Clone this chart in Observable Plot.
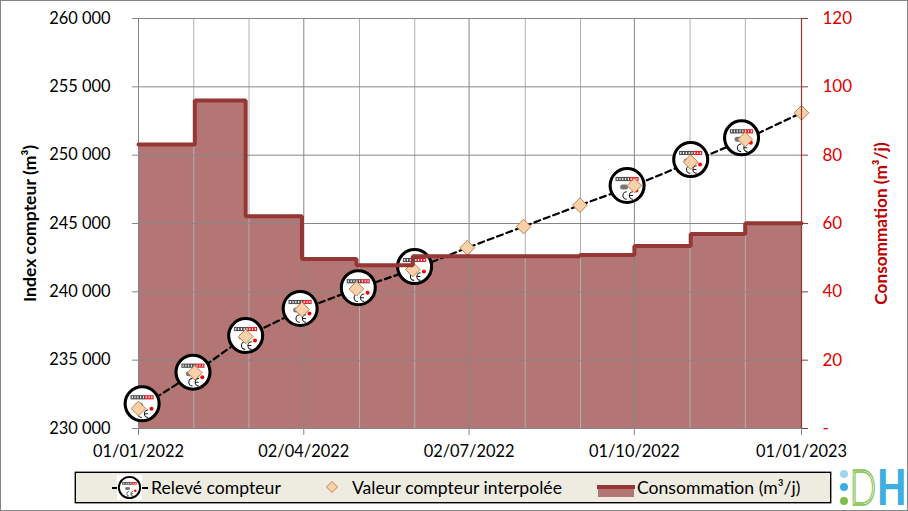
<!DOCTYPE html>
<html lang="fr">
<head>
<meta charset="utf-8">
<script src="https://cdn.jsdelivr.net/npm/d3@7"></script>
<script src="https://cdn.jsdelivr.net/npm/@observablehq/plot@0.6"></script>
<style>
html,body{margin:0;padding:0;background:#fff;width:908px;height:511px;overflow:hidden}
#page{position:relative;width:908px;height:511px;font-family:Lato,sans-serif;color:#000;overflow:hidden}
#frame{position:absolute;inset:0;border:1px solid #858585;box-sizing:border-box;pointer-events:none}
#legend{position:absolute;left:75px;top:472px;width:756px;height:31px;box-sizing:border-box;background:#eeece1;border:1px solid #000;box-shadow:0 0 0 .4px #000}
#legend span{position:absolute;top:3px;font-size:17.6px;line-height:24px;white-space:nowrap}
#legend svg,#legend img{position:absolute}
#logo{position:absolute;left:836px;top:462px}
svg{display:block}
</style>
</head>
<body>
<div id="page">
<div id="chart"></div>
<div id="legend"></div>
<svg id="logo" width="71" height="48" viewBox="0 0 71 48">
<circle cx="8" cy="12" r="4" fill="#9dd5ee"/>
<circle cx="8" cy="25" r="4" fill="#3caee0"/>
<circle cx="8" cy="39" r="4" fill="#7cc04b"/>
<text x="13.5" y="43" font-family="Lato" font-weight="300" font-size="50" textLength="27" lengthAdjust="spacingAndGlyphs" fill="#fff" stroke="#7cc04b" stroke-width="1.4">D</text>
<text x="41" y="43" font-family="Lato" font-weight="900" font-size="50" textLength="29.5" lengthAdjust="spacingAndGlyphs" fill="#3caee0">H</text>
</svg>
<div id="frame"></div>
</div>
<script>
// ---- data ----
const monthStarts = ["2022-01-01","2022-02-01","2022-03-01","2022-04-01","2022-05-01","2022-06-01","2022-07-01","2022-08-01","2022-09-01","2022-10-01","2022-11-01","2022-12-01","2023-01-01"];
const interpolatedIndex = [231460,234080,236730,238710,240220,241630,243220,244780,246340,247780,249490,251150,253100];
const consumption = [83.1,96,62.1,49.6,47.8,50.4,50.4,50.4,50.8,53.4,56.9,60.1,60.1];
const readingDates = ["2022-01-03","2022-01-31","2022-03-01","2022-03-31","2022-05-02","2022-06-02","2022-09-27","2022-11-01","2022-11-29"];
const readingIndex = [231810,234120,236800,238780,240300,241850,247780,249680,251270];
const leftTicks = [230000,235000,240000,245000,250000,255000,260000];
const rightTicks = [0,20,40,60,80,100,120];
const majorDates = ["2022-01-01","2022-04-02","2022-07-02","2022-10-01","2023-01-01"];
const minorDates = ["2022-01-31T10:00","2022-03-02T20:00","2022-05-02T16:00","2022-06-02T02:00","2022-08-01T22:00","2022-09-01T08:00","2022-10-31T16:00","2022-12-01T02:00"];

const D = s => new Date(s + (s.length > 10 ? ":00Z" : "T00:00:00Z"));
const toLeft = v => 230000 + v * 250;   // right axis 0–120 shares the frame with left axis 230 000–260 000
const iconSvg = `<svg xmlns="http://www.w3.org/2000/svg" width="80" height="80" viewBox="0 0 40 40">
<circle cx="20" cy="20" r="17" fill="#fff" stroke="#000" stroke-width="3.1"/>
<rect x="8.2" y="11.3" width="23.6" height="4.4" fill="#bbb"/>
<g fill="#eee" stroke="#444" stroke-width=".9">
<rect x="9" y="12" width="2.2" height="3"/><rect x="11.8" y="12" width="2.2" height="3"/><rect x="14.6" y="12" width="2.2" height="3"/><rect x="17.4" y="12" width="2.2" height="3"/><rect x="20.2" y="12" width="2.2" height="3"/></g>
<g fill="#fdd" stroke="#e8141c" stroke-width=".9">
<rect x="23" y="12" width="2.2" height="3"/><rect x="25.8" y="12" width="2.2" height="3"/><rect x="28.6" y="12" width="2.2" height="3"/></g>
<rect x="13" y="19" width="8" height="5" rx="2.5" fill="#777"/>
<circle cx="29.3" cy="25" r="2" fill="#f00"/>
<path d="M19.6 26.2a3.8 3.8 0 1 0 0 7.6M26 26.2a3.8 3.8 0 1 0 0 7.6M22.2 30h3.6" fill="none" stroke="#222" stroke-width="1.1"/>
</svg>`;
const iconUri = "data:image/svg+xml," + encodeURIComponent(iconSvg);

const font = {fontFamily: "Lato, sans-serif", fontSize: 16.4};
const conso = monthStarts.map((d, i) => ({date: D(d), value: toLeft(consumption[i])}));
const interp = monthStarts.map((d, i) => ({date: D(d), value: interpolatedIndex[i]}));
const reads = readingDates.map((d, i) => ({date: D(d), value: readingIndex[i]}));
const spaced = v => d3.format(",")(v).replace(/,/g, " ");

const plot = Plot.plot({
  width: 908, height: 468,
  marginLeft: 138, marginRight: 107, marginTop: 18, marginBottom: 40,
  style: {background: "transparent", overflow: "visible"},
  x: {type: "utc", domain: [D("2022-01-01"), D("2023-01-01")]},
  y: {domain: [230000, 260000]},
  marks: [
    Plot.areaY(conso, {x: "date", y1: 230000, y2: "value", curve: "step-after", fill: "#b37674"}),
    Plot.gridX(minorDates.map(D), {stroke: "#b0b0b0", strokeOpacity: 1}),
    Plot.gridX(majorDates.map(D), {stroke: "#868686", strokeOpacity: 1}),
    Plot.gridY(leftTicks, {stroke: "#868686", strokeOpacity: 1}),
    Plot.axisY(leftTicks, {anchor: "left", tickSize: 6, tickPadding: 22, tickFormat: spaced, stroke: "#868686", fill: "#000", ...font, label: null}),
    Plot.axisX(majorDates.map(D), {anchor: "bottom", tickSize: 7, tickPadding: 10, tickFormat: d3.utcFormat("%d/%m/%Y"), stroke: "#868686", fill: "#000", ...font, label: null}),
    Plot.lineY(interp, {x: "date", y: "value", stroke: "#000", strokeWidth: 2.2, strokeDasharray: "6 4"}),
    Plot.image(reads, {x: "date", y: "value", src: () => iconUri, width: 40, height: 40}),
    Plot.dot(interp, {x: "date", y: "value", symbol: "diamond2", r: 6.6, fill: "#fcd0a8", stroke: "#b8834f", strokeWidth: 1}),
    Plot.line(conso, {x: "date", y: "value", curve: "step-after", stroke: "#953735", strokeWidth: 4, strokeLinejoin: "miter"}),
    Plot.ruleX([D("2023-01-01")], {stroke: "#953735", strokeWidth: 1.2}),
    Plot.axisY(rightTicks.map(toLeft), {anchor: "right", tickSize: 6, tickPadding: 15, tickFormat: d => { const v = (d - 230000) / 250; return v === 0 ? "-" : String(v); }, stroke: "#953735", fill: "#e00000", ...font, fontSize: 17, label: null}),
    Plot.text(["Index compteur (m³)"], {frameAnchor: "left", textAnchor: "middle", rotate: -90, dx: -108, fontFamily: "Lato, sans-serif", fontSize: 17.6, fontWeight: 700, fill: "#000"}),
    Plot.text(["Consommation (m³/j)"], {frameAnchor: "right", textAnchor: "middle", rotate: -90, dx: 80, fontFamily: "Lato, sans-serif", fontSize: 17.2, fontWeight: 700, fill: "#c00000"})
  ]
});
document.getElementById("chart").append(plot);

// ---- legend ----
document.getElementById("legend").innerHTML = `
<svg style="left:36px;top:13px" width="36" height="4"><path d="M0 2H6M30 2H36" stroke="#000" stroke-width="2"/></svg>
<img src="${iconUri}" width="25" height="25" style="left:41px;top:2px;background:#fff">
<span style="left:75px">Relevé compteur</span>
<svg style="left:249px;top:7px" width="14" height="14"><path d="M7 1.5L12.5 7L7 12.5L1.5 7Z" fill="#fcd0a8" stroke="#b8834f"/></svg>
<span style="left:276px">Valeur compteur interpolée</span>
<svg style="left:521px;top:10px" width="38" height="15"><rect x="1" y="3" width="36" height="11" fill="#b37674"/><rect x="0" y="2" width="38" height="4" fill="#953735"/></svg>
<span style="left:561px">Consommation (m³/j)</span>`;
</script>
</body>
</html>
